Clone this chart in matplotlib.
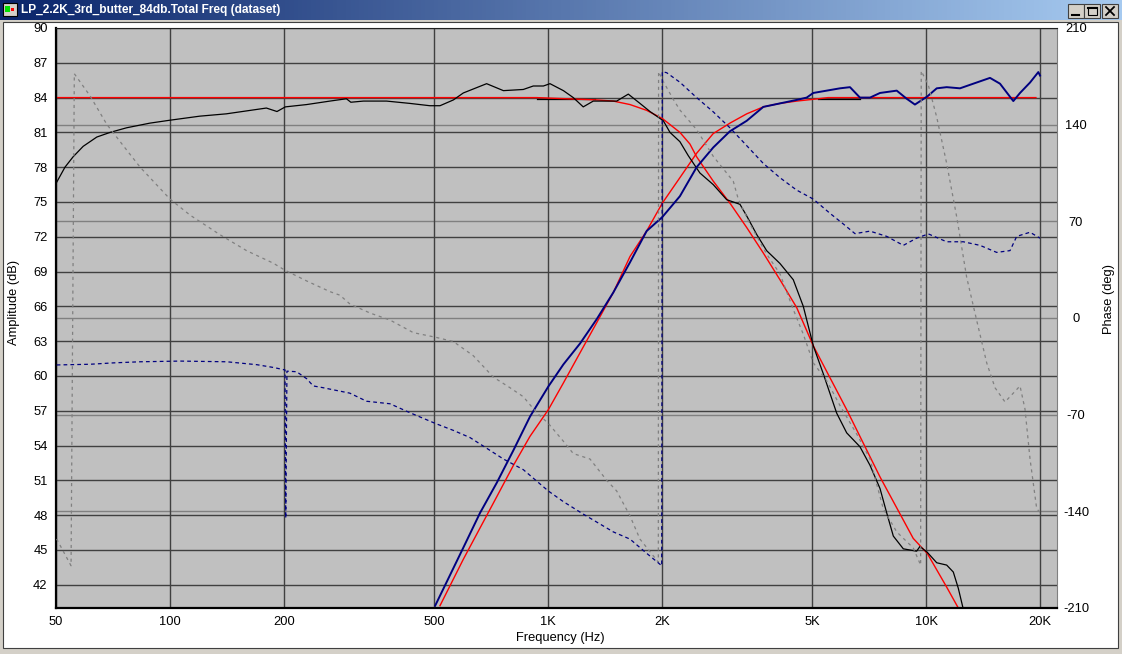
import matplotlib
matplotlib.use('Agg')
import matplotlib.pyplot as plt
import numpy as np
from matplotlib.patches import Rectangle
from matplotlib.colors import LinearSegmentedColormap
from matplotlib.ticker import NullLocator

plt.rcParams['font.family'] = ['Liberation Sans', 'DejaVu Sans']
plt.rcParams['axes.unicode_minus'] = False

title = "LP_2.2K_3rd_butter_84db.Total Freq (dataset)"

freq_ticks = [50, 100, 200, 500, 1000, 2000, 5000, 10000, 20000]
freq_labels = ['50', '100', '200', '500', '1K', '2K', '5K', '10K', '20K']
amp_ticks = list(range(42, 91, 3))
phase_ticks = [-210, -140, -70, 0, 70, 140, 210]

# low-pass driver amplitude (black)
lp_f = [50.2, 52.8, 55.5, 59.0, 64.1, 69.5, 76.9, 88.6, 100, 120, 141, 180, 192, 202,
        230, 265, 293, 301, 325, 374, 431, 487, 518, 562, 597, 688, 762, 860, 914,
        972, 1012, 1098, 1166, 1239, 1317, 1519, 1630, 1750, 1860, 2018, 2101, 2232,
        2348, 2521, 2734, 2967, 3217, 3352, 3562, 3786, 4104, 4451, 4731, 5028, 5342,
        5797, 6161, 6680, 7101, 7547, 7861, 8184, 8698, 9432, 9623, 10066, 10660,
        11326, 11792, 12156, 12531]
lp_db = [76.7, 78.0, 78.9, 79.8, 80.6, 81.0, 81.4, 81.8, 82.05, 82.4, 82.6, 83.1, 82.8, 83.2,
         83.4, 83.7, 83.9, 83.6, 83.7, 83.7, 83.5, 83.3, 83.3, 83.8, 84.4, 85.2, 84.6, 84.7, 85.0,
         85.0, 85.2, 84.6, 84.0, 83.2, 83.7, 83.7, 84.3, 83.5, 82.8, 82.0, 81.0, 80.2,
         79.0, 77.5, 76.5, 75.2, 74.8, 73.8, 72.2, 70.8, 69.7, 68.3, 66.0, 62.6, 60.2,
         56.8, 55.1, 53.9, 52.3, 50.3, 48.2, 46.2, 45.1, 44.9, 45.3, 44.8, 43.9,
         43.7, 43.1, 41.7, 39.9]

# short flat black pieces near the 84 dB line
flat1_f = [933, 1330]
flat1_db = [83.9, 83.9]
flat2_f = [5182, 6700]
flat2_db = [83.9, 83.9]

# high-pass driver amplitude (blue)
hp_f = [503, 597, 661, 732, 810, 896, 1002, 1098, 1215, 1345, 1488, 1647, 1823, 2005,
        2232, 2471, 2734, 3027, 3352, 3709, 4104, 4544, 4829, 5028, 5454, 5915, 6286,
        6680, 7101, 7547, 8356, 8880, 9335, 10066, 10660, 11326, 12283, 13319, 14744,
        15669, 16992, 17700, 18813, 19787, 19993]
hp_db = [40.2, 45.2, 48.2, 50.8, 53.6, 56.5, 59.1, 61.0, 62.8, 64.9, 67.2, 69.8, 72.5, 73.7,
         75.5, 78.0, 79.7, 81.1, 82.0, 83.2, 83.5, 83.8, 84.0, 84.4, 84.6, 84.8, 84.9,
         84.0, 84.0, 84.4, 84.6, 83.9, 83.4, 84.1, 84.8, 84.9, 84.8, 85.2, 85.7,
         85.2, 83.7, 84.4, 85.3, 86.2, 85.9]

# targets (red)
lpt_f = [50, 933, 1345, 1488, 1647, 1823, 2005, 2232, 2372, 2471, 2734, 3027, 3352, 3709,
         4104, 4544, 5028, 6161, 7547, 9239, 10066, 11326, 12300]
lpt_db = [84.0, 84.0, 83.8, 83.7, 83.4, 82.9, 82.2, 81.0, 80.0, 78.9, 76.8, 74.9, 72.8, 70.6,
          68.3, 65.9, 62.6, 57.1, 51.3, 46.0, 44.7, 41.8, 39.7]
hpt_f = [518, 597, 661, 732, 810, 896, 1002, 1098, 1215, 1345, 1488, 1647, 1823, 2005,
         2232, 2471, 2734, 3027, 3352, 3709, 4104, 4544, 5182, 5500, 19500]
hpt_db = [40.2, 44.2, 46.9, 49.6, 52.3, 54.8, 57.1, 59.4, 62.0, 64.6, 67.2, 70.3, 72.5, 74.9,
          77.1, 79.2, 80.9, 81.8, 82.6, 83.2, 83.5, 83.7, 83.9, 84.0, 84.0]

# phase (blue dashed)
ph1_f = [50.2, 61.5, 70.9, 83.4, 106.4, 141.4, 169.7, 187.7, 201.6, 202.5, 204, 216.4,
         230.1, 239.4, 254.5, 265, 299, 331.5, 382, 431.5, 503, 562, 622, 688, 762, 860,
         1002, 1098, 1239, 1488, 1647, 1823, 1998, 2005, 2060, 2232, 2471, 2734, 3027,
         3352, 3709, 4104, 4544, 5028, 5565, 6035, 6480, 7101, 7861, 8698, 9432, 10128,
         11326, 12531, 13874, 15357, 16655, 17348, 18813, 19993]
ph1_deg = [-34.0, -33.5, -32.5, -31.7, -31.2, -31.7, -33.8, -35.8, -37.6, -145, -38.5, -38.9,
           -44.0, -49.2, -50.5, -51.5, -54.4, -60.3, -62.1, -68.6, -76.3, -81.4, -86.6, -94.3,
           -102.1, -109.8, -125.3, -133.0, -142.0, -154.9, -160.1, -170.4, -179.4, 178.4,
           177.6, 170.7, 159.6, 149.3, 137.7, 124.8, 111.9, 101.6, 92.6, 86.1, 75.8, 68.1,
           61.1, 62.9, 59.1, 52.6, 57.8, 60.9, 55.2, 55.2, 52.6, 47.5, 48.8, 59.1, 62.1, 57.8]

# phase (grey dashed)
ph2_f = [50.2, 54.8, 55.9, 61.5, 68.1, 75.3, 83.4, 100.1, 113.1, 135.7, 159.7, 187.7, 201.6,
         230.1, 265, 281.7, 299.4, 338.3, 382.2, 440.3, 503.4, 561.6, 634.4, 716.6, 793.3,
         860.2, 933.3, 1001.6, 1097.5, 1166.3, 1290.9, 1429.1, 1519, 1647, 1750, 1957, 1960,
         2018, 2144, 2232, 2471, 2734, 3089, 3184, 3420, 3786, 4104, 4451, 4731, 5028,
         5454, 5915, 6548, 7101, 7700, 8356, 9239, 9665, 9700, 10128, 10660, 11326, 12039,
         12793, 13598, 14451, 15201, 16155, 16992, 17700, 18246, 18813, 19596, 19993]
ph2_deg = [-160, -179.4, 176.9, 160.9, 140.3, 124.8, 109.3, 86.1, 74.5, 60.3, 48.7, 39.7, 34.6,
           26.8, 19.1, 16.5, 10.1, 3.6, -1.5, -10.6, -13.9, -17.0, -27.3, -42.8, -50.5,
           -57.0, -68.6, -76.3, -89.2, -98.2, -102.1, -117.5, -125.3, -143.3, -160.1, -176.8, 178.4,
           171.2, 158.3, 150.6, 136.4, 117.1, 99.0, 86.1, 68.1, 46.2, 32.0, 6.2, -11.8, -32.5,
           -45.4, -63.4, -84.0, -102.1, -138.2, -154.9, -166.5, -178.9, 178.9, 168.6, 145.4,
           111.9, 73.2, 29.4, -1.8, -32.5, -50.5, -60.8, -54.4, -49.2, -66.0, -102.1, -138.2, -140.7]

W, H = 1122, 654
fig = plt.figure(figsize=(W / 100, H / 100), dpi=100, facecolor='#D4D0C8')

# window chrome
bg = fig.add_axes([0, 0, 1, 1])
bg.axis('off')
cmap = LinearSegmentedColormap.from_list('tb', ['#0A246A', '#A6CAF0'])
bg.imshow(np.linspace(0, 1, 256).reshape(1, -1), extent=[0, W, 20, 0], aspect='auto', cmap=cmap)
bg.set_xlim(0, W)
bg.set_ylim(H, 0)
bg.add_patch(Rectangle((3, 22), W - 7, H - 28, facecolor='white', edgecolor='#404040', lw=0.8))
bg.add_patch(Rectangle((3, 3), 14, 13, facecolor='#D4D0C8', edgecolor='black', lw=0.8))
bg.add_patch(Rectangle((5, 6), 5, 6, facecolor='#00E000', edgecolor='none'))
bg.add_patch(Rectangle((11, 8), 3, 3, facecolor='#FF0000', edgecolor='none'))
for bx in [1068, 1084, 1102]:
    bg.add_patch(Rectangle((bx, 4), 16, 14, facecolor='#D4D0C8', edgecolor='#404040', lw=0.8))
bg.plot([1072, 1079], [14.5, 14.5], color='black', lw=1.5)
bg.add_patch(Rectangle((1088, 7), 9, 8, facecolor='none', edgecolor='black', lw=0.8))
bg.plot([1088, 1097], [7.5, 7.5], color='black', lw=1.5)
bg.plot([1106, 1114], [7, 15], color='black', lw=1.3)
bg.plot([1106, 1114], [15, 7], color='black', lw=1.3)
fig.text(21 / W, 1 - 10.5 / H, title, color='white', fontsize=8.6, fontweight='bold',
         ha='left', va='center')

# plot area
x0, x1, y0, y1 = 56, 1057, 28, 608
ax = fig.add_axes([x0 / W, 1 - y1 / H, (x1 - x0) / W, (y1 - y0) / H])
ax.set_facecolor('#C0C0C0')
ax.set_xscale('log')
ax.set_xlim(50, 22170)
ax.set_ylim(40, 90)
ax.set_xticks(freq_ticks)
ax.set_xticklabels(freq_labels)
ax.xaxis.set_minor_locator(NullLocator())
ax.set_yticks(amp_ticks)
ax.tick_params(length=0, labelsize=9.3, pad=6)
ax.set_axisbelow(True)
ax.grid(True, color='#404040', lw=1.0)
for p in phase_ticks[1:-1]:
    fr = (p + 210) / 420
    ax.plot([0, 1], [fr, fr], transform=ax.transAxes, color='#808080', lw=1.0, zorder=0.4)
for side in ['left', 'bottom']:
    ax.spines[side].set_color('black')
    ax.spines[side].set_linewidth(1.6)
ax.spines['top'].set_color('#202020')
ax.spines['right'].set_color('#808080')

ax.plot(flat1_f, flat1_db, color='black', lw=0.9)
ax.plot(flat2_f, flat2_db, color='black', lw=0.9)
ax.plot(lpt_f, lpt_db, color='#FF0000', lw=1.0)
ax.plot(hpt_f, hpt_db, color='#FF0000', lw=1.0)
ax.plot(lp_f, lp_db, color='black', lw=0.9)
ax.plot(hp_f, hp_db, color='#000080', lw=1.4)

ax2 = ax.twinx()
ax2.set_ylim(-210, 210)
ax2.set_yticks(phase_ticks)
ax2.tick_params(length=0, labelsize=9.3, pad=13.7)
for lbl in ax2.get_yticklabels():
    lbl.set_horizontalalignment('center')
for s in ax2.spines.values():
    s.set_visible(False)
ax2.plot(ph2_f, ph2_deg, color='#808080', lw=0.9, dashes=(2.5, 3))
ax2.plot(ph1_f, ph1_deg, color='#000080', lw=0.9, dashes=(3, 2.5))
ax.set_xlim(50, 22170)

fig.text(14 / W, 1 - 302 / H, 'Amplitude (dB)', rotation=90, ha='center', va='center', fontsize=9.3)
fig.text(1109 / W, 1 - 299 / H, 'Phase (deg)', rotation=90, ha='center', va='center', fontsize=9.3)
fig.text(560 / W, 1 - 638 / H, 'Frequency (Hz)', ha='center', va='center', fontsize=9.3)

fig.savefig('out.png', dpi=100, facecolor=fig.get_facecolor())
